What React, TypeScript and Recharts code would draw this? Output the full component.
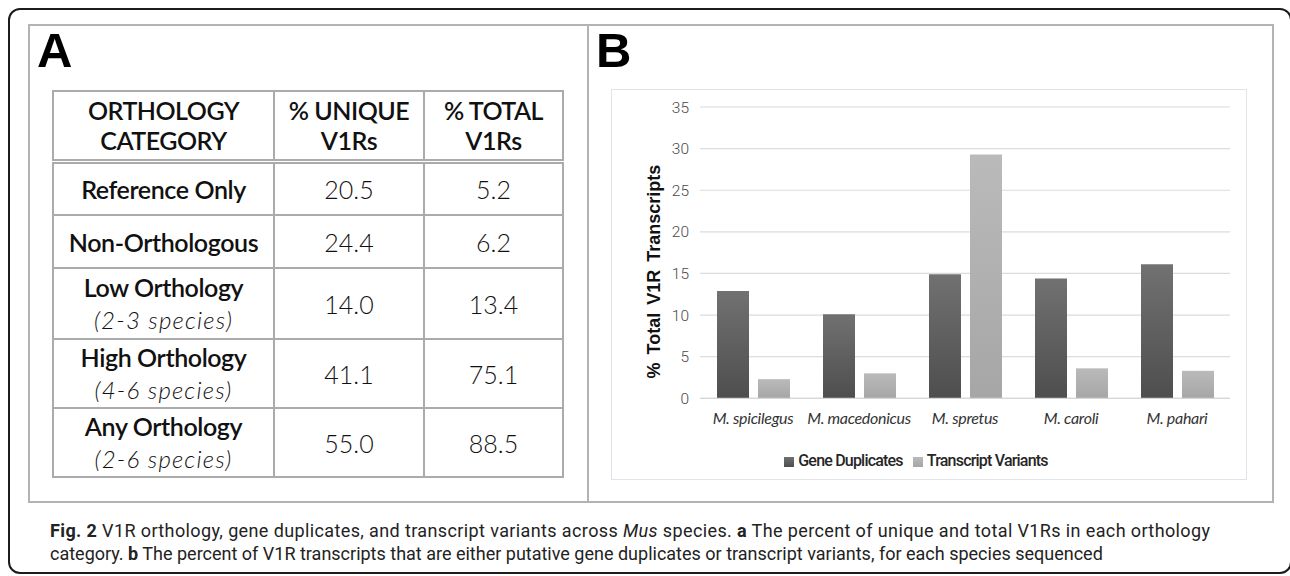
import React from "react";
import { Bar, BarChart, CartesianGrid, Legend, XAxis, YAxis } from "recharts";

// Panel A: orthology table
const orthologyCategories = ["Reference Only", "Non-Orthologous", "Low Orthology", "High Orthology", "Any Orthology"];
const speciesRanges = ["", "", "(2-3 species)", "(4-6 species)", "(2-6 species)"];
const uniqueV1Rs = ["20.5", "24.4", "14.0", "41.1", "55.0"];
const totalV1Rs = ["5.2", "6.2", "13.4", "75.1", "88.5"];

// Panel B: % of V1R transcripts per species
const species = ["M. spicilegus", "M. macedonicus", "M. spretus", "M. caroli", "M. pahari"];
const geneDuplicates = [12.9, 10.1, 14.9, 14.4, 16.1];
const transcriptVariants = [2.3, 3.0, 29.3, 3.6, 3.3];
const yTicks = [0, 5, 10, 15, 20, 25, 30, 35];

const chartData = species.map((name, i) => ({
  species: name,
  gene: geneDuplicates[i],
  variant: transcriptVariants[i],
}));

const rowHeights = [54, 53.4, 70.6, 69.4, 69];
const cellBorder = "2px solid #ababab";
const tableFont = "Lato, 'Noto Sans', sans-serif";

function OrthologyTable() {
  return (
    <table
      style={{
        position: "absolute",
        left: 52,
        top: 90,
        width: 510,
        borderCollapse: "collapse",
        tableLayout: "fixed",
        fontFamily: tableFont,
        color: "#111",
        textAlign: "center",
      }}
    >
      <colgroup>
        <col style={{ width: 221 }} />
        <col style={{ width: 150 }} />
        <col style={{ width: 139 }} />
      </colgroup>
      <thead>
        <tr style={{ height: 70 }}>
          {["ORTHOLOGY CATEGORY", "% UNIQUE V1Rs", "% TOTAL V1Rs"].map((h) => {
            const [a, b] = h.split(/ (?=\S+$)/);
            return (
              <th
                key={h}
                style={{
                  border: cellBorder,
                  borderBottom: "5px double #ababab",
                  padding: 0,
                  fontWeight: 600,
                  fontSize: 25,
                  lineHeight: "30px",
                  letterSpacing: -0.5,
                }}
              >
                {a}
                <br />
                {b}
              </th>
            );
          })}
        </tr>
      </thead>
      <tbody>
        {orthologyCategories.map((cat, i) => (
          <tr key={cat} style={{ height: rowHeights[i] }}>
            <td style={{ border: cellBorder, padding: 0, fontSize: 25, fontWeight: 600, lineHeight: "32px", letterSpacing: -0.4 }}>
              {cat}
              {speciesRanges[i] && (
                <>
                  <br />
                  <span style={{ fontStyle: "italic", fontWeight: 300, fontSize: 24, letterSpacing: 1.2 }}>
                    {speciesRanges[i]}
                  </span>
                </>
              )}
            </td>
            <td style={{ border: cellBorder, padding: 0, fontSize: 25, fontWeight: 300 }}>{uniqueV1Rs[i]}</td>
            <td style={{ border: cellBorder, padding: 0, fontSize: 25, fontWeight: 300 }}>{totalV1Rs[i]}</td>
          </tr>
        ))}
      </tbody>
    </table>
  );
}

// rotated axis title, nudged below the plot's vertical centre
function AxisTitle(props: any) {
  const vb = props.viewBox || { x: 0, y: 0, height: 0 };
  const cx = vb.x + 42;
  const cy = vb.y + vb.height / 2 + 19;
  return (
    <text
      x={cx}
      y={cy}
      transform={`rotate(-90 ${cx} ${cy})`}
      textAnchor="middle"
      dominantBaseline="central"
      fontFamily="'Liberation Sans', Arial, sans-serif"
      fontWeight={700}
      fontSize={18}
      wordSpacing={3}
      fill="#111"
    >
      % Total V1R Transcripts
    </text>
  );
}

function TranscriptChart() {
  return (
    <div
      style={{
        position: "absolute",
        left: 611,
        top: 89,
        width: 636,
        height: 391,
        boxSizing: "border-box",
        border: "1px solid #dfe4ea",
      }}
    >
      <BarChart
        width={634}
        height={389}
        data={chartData}
        margin={{ top: 17, right: 16, bottom: 0, left: 0 }}
        barSize={32}
        barGap={9}
      >
        <defs>
          <linearGradient id="geneFill" x1="0" y1="0" x2="0" y2="1">
            <stop offset="0%" stopColor="#717171" />
            <stop offset="100%" stopColor="#4e4e4e" />
          </linearGradient>
          <linearGradient id="variantFill" x1="0" y1="0" x2="0" y2="1">
            <stop offset="0%" stopColor="#bababa" />
            <stop offset="100%" stopColor="#a6a6a6" />
          </linearGradient>
        </defs>
        <CartesianGrid vertical={false} stroke="#dcdcdc" strokeWidth={1.2} />
        <XAxis
          dataKey="species"
          interval={0}
          height={52.7}
          tickLine={false}
          axisLine={{ stroke: "#d6d6d6", strokeWidth: 1.2 }}
          tickMargin={8}
          tick={{ fontFamily: "Lato, sans-serif", fontStyle: "italic", fontWeight: 400, fontSize: 16, letterSpacing: -0.3, fill: "#333" }}
        />
        <YAxis
          width={88}
          domain={[0, 35]}
          ticks={yTicks}
          interval={0}
          axisLine={false}
          tickLine={false}
          tickMargin={5}
          tick={{ fontFamily: "Roboto, sans-serif", fontWeight: 300, fontSize: 15.5, fill: "#4a4a4a" }}
          label={<AxisTitle />}
        />
        <Legend
          verticalAlign="bottom"
          height={28}
          iconType="square"
          iconSize={10}
          wrapperStyle={{
            fontFamily: "Roboto, sans-serif",
            fontWeight: 500,
            fontSize: 16,
            letterSpacing: -0.8,
            lineHeight: "20px",
          }}
          formatter={(value) => <span style={{ color: "#262626" }}>{value}</span>}
        />
        <Bar dataKey="gene" name="Gene Duplicates" fill="url(#geneFill)" legendType="square" isAnimationActive={false} />
        <Bar dataKey="variant" name="Transcript Variants" fill="url(#variantFill)" legendType="square" isAnimationActive={false} />
      </BarChart>
    </div>
  );
}

function Caption() {
  const font = { fontFamily: "Roboto, sans-serif", fontSize: 18, fill: "#222" };
  return (
    <svg width={1290} height={60} style={{ position: "absolute", left: 0, top: 512 }}>
      {/* first line is justified to the column width */}
      <text x={50} y={24.5} textLength={1160} lengthAdjust="spacing" {...font}>
        <tspan fontWeight={700}>Fig. 2</tspan> V1R orthology, gene duplicates, and transcript variants across{" "}
        <tspan fontStyle="italic">Mus</tspan> species. <tspan fontWeight={700}>a</tspan> The percent of unique and total V1Rs
        in each orthology
      </text>
      <text x={50} y={47.5} {...font}>
        category. <tspan fontWeight={700}>b</tspan> The percent of V1R transcripts that are either putative gene duplicates or
        transcript variants, for each species sequenced
      </text>
    </svg>
  );
}

export default function App() {
  const panelLetter: React.CSSProperties = {
    position: "absolute",
    top: 22,
    fontFamily: "'Liberation Sans', Arial, sans-serif",
    fontWeight: 700,
    fontSize: 49,
    lineHeight: "56px",
    color: "#000",
  };
  return (
    <div
      style={{
        position: "absolute",
        left: 0,
        top: 0,
        width: 1290,
        height: 576,
        overflow: "hidden",
        background: "#fff",
      }}
    >
      {/* outer rounded frame */}
      <div
        style={{
          position: "absolute",
          left: 8,
          top: 8,
          width: 1284,
          height: 566,
          boxSizing: "border-box",
          border: "2px solid #1c1c1c",
          borderRadius: 12,
        }}
      />
      {/* panel frame with divider */}
      <div
        style={{
          position: "absolute",
          left: 28,
          top: 24,
          width: 1246,
          height: 479,
          boxSizing: "border-box",
          border: "2px solid #b3b3b3",
        }}
      />
      <div style={{ position: "absolute", left: 587, top: 24, width: 2, height: 479, background: "#b3b3b3" }} />

      <div style={{ ...panelLetter, left: 37 }}>A</div>
      <div style={{ ...panelLetter, left: 596 }}>B</div>

      <OrthologyTable />
      <TranscriptChart />
      <Caption />
    </div>
  );
}
